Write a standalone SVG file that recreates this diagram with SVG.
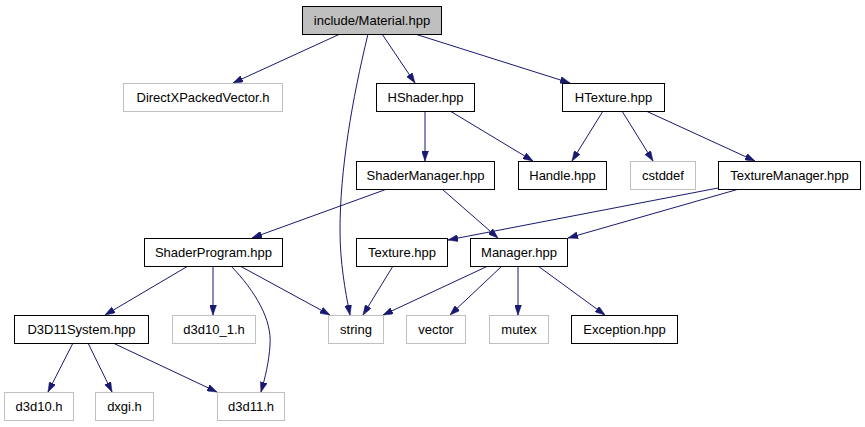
<svg xmlns="http://www.w3.org/2000/svg" width="865" height="427" viewBox="0 0 865 427">
<style>
.n rect{fill:#ffffff;stroke:#000000;stroke-width:1}
.n.x rect{stroke:#bfbfbf}
.n.root rect{fill:#bfbfbf;stroke:#000000}
.n text{font-family:"Liberation Sans",Arial,sans-serif;font-size:13px;text-anchor:middle;fill:#000000}
#edges path{fill:none;stroke:#191970;stroke-width:1;marker-end:url(#ah)}
</style>
<defs>
<marker id="ah" viewBox="0 0 10 7" refX="10" refY="3.5" markerWidth="10" markerHeight="7" markerUnits="userSpaceOnUse" orient="auto">
<path d="M0,0 L10,3.5 L0,7 z" fill="#191970" stroke="#191970" stroke-width="0.5"/>
</marker>
</defs>
<rect width="865" height="427" fill="#ffffff"/>
<g id="edges">
<path d="M340,34 L233,83"/>
<path d="M368,34 C352,100 340,170 340,230 C340,262 345,290 350,315"/>
<path d="M382,34 L415,83"/>
<path d="M415,34 L570,83"/>
<path d="M425,111 L425,161"/>
<path d="M450,111 L533,161"/>
<path d="M603,111 L572,161"/>
<path d="M622,111 L653,161"/>
<path d="M646,111 L755,161"/>
<path d="M387,189 L252,238"/>
<path d="M442,189 L498,238"/>
<path d="M718,188 L448,240"/>
<path d="M739,189 L568,238"/>
<path d="M188,266 L105,315"/>
<path d="M213,266 L213,315"/>
<path d="M231,266 C256,292 272,320 270,345 C269,362 265,378 261,392"/>
<path d="M240,266 L330,315"/>
<path d="M393,266 L363,315"/>
<path d="M488,266 L383,315"/>
<path d="M502,266 L450,315"/>
<path d="M518,266 L518,315"/>
<path d="M538,266 L605,315"/>
<path d="M73,343 L48,392"/>
<path d="M88,343 L112,392"/>
<path d="M113,343 L217,392"/>
</g>
<g id="n_material" class="n root"><rect x="302.5" y="6.5" width="139" height="28"/><text x="372" y="24.5">include/Material.hpp</text></g>
<g id="n_directxpackedvector" class="n x"><rect x="123.5" y="83.5" width="159" height="28"/><text x="203" y="101.5">DirectXPackedVector.h</text></g>
<g id="n_hshader" class="n"><rect x="376.5" y="83.5" width="98" height="28"/><text x="425.5" y="101.5">HShader.hpp</text></g>
<g id="n_htexture" class="n"><rect x="562.5" y="83.5" width="102" height="28"/><text x="613.5" y="101.5">HTexture.hpp</text></g>
<g id="n_shadermanager" class="n"><rect x="356.5" y="161.5" width="138" height="28"/><text x="425.5" y="179.5">ShaderManager.hpp</text></g>
<g id="n_handle" class="n"><rect x="518.5" y="161.5" width="88" height="28"/><text x="562.5" y="179.5">Handle.hpp</text></g>
<g id="n_cstddef" class="n x"><rect x="630.5" y="161.5" width="65" height="28"/><text x="663" y="179.5">cstddef</text></g>
<g id="n_texturemanager" class="n"><rect x="718.5" y="161.5" width="142" height="28"/><text x="789.5" y="179.5">TextureManager.hpp</text></g>
<g id="n_shaderprogram" class="n"><rect x="144.5" y="238.5" width="138" height="28"/><text x="213.5" y="256.5">ShaderProgram.hpp</text></g>
<g id="n_texture" class="n"><rect x="356.5" y="238.5" width="91" height="28"/><text x="402" y="256.5">Texture.hpp</text></g>
<g id="n_manager" class="n"><rect x="470.5" y="238.5" width="97" height="28"/><text x="519" y="256.5">Manager.hpp</text></g>
<g id="n_d3d11system" class="n"><rect x="14.5" y="315.5" width="134" height="28"/><text x="81.5" y="333.5">D3D11System.hpp</text></g>
<g id="n_d3d10_1" class="n x"><rect x="172.5" y="315.5" width="83" height="28"/><text x="214" y="333.5">d3d10_1.h</text></g>
<g id="n_string" class="n x"><rect x="328.5" y="315.5" width="55" height="28"/><text x="356" y="333.5">string</text></g>
<g id="n_vector" class="n x"><rect x="406.5" y="315.5" width="59" height="28"/><text x="436" y="333.5">vector</text></g>
<g id="n_mutex" class="n x"><rect x="489.5" y="315.5" width="59" height="28"/><text x="519" y="333.5">mutex</text></g>
<g id="n_exception" class="n"><rect x="571.5" y="315.5" width="106" height="28"/><text x="624.5" y="333.5">Exception.hpp</text></g>
<g id="n_d3d10" class="n x"><rect x="4.5" y="392.5" width="69" height="28"/><text x="39" y="410.5">d3d10.h</text></g>
<g id="n_dxgi" class="n x"><rect x="95.5" y="392.5" width="58" height="28"/><text x="124.5" y="410.5">dxgi.h</text></g>
<g id="n_d3d11" class="n x"><rect x="217.5" y="392.5" width="67" height="28"/><text x="251" y="410.5">d3d11.h</text></g>
</svg>
